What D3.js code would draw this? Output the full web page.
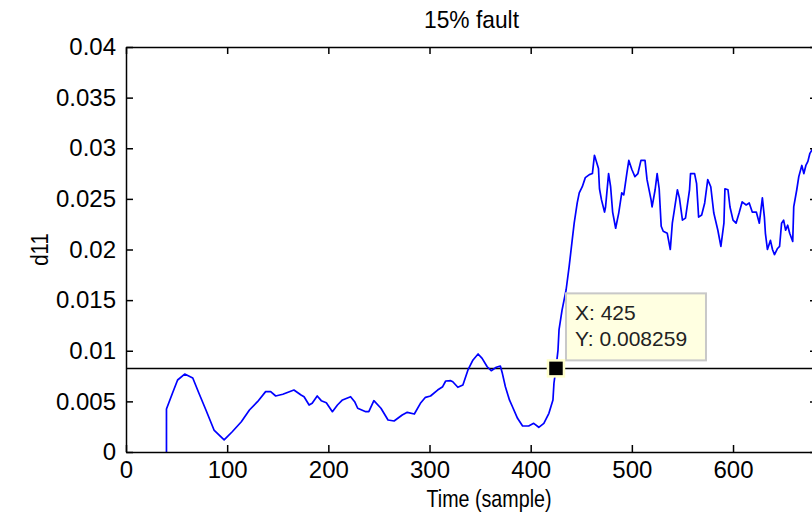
<!DOCTYPE html>
<html>
<head>
<meta charset="utf-8">
<script src="https://cdn.jsdelivr.net/npm/d3@7/dist/d3.min.js"></script>
<style>
  html, body { margin: 0; padding: 0; background: #ffffff; }
  svg { display: block; }
  .lbl { font-family: "Liberation Sans", Arial, Helvetica, sans-serif; }
</style>
</head>
<body>
<svg id="chart" width="812" height="516"></svg>
<script>
// ---- data ----
const sampleIdx = [40,40,46,51,58,66,72,79,87,97,105,114,122,130,138,143,148,155,166,173,176,181,184,189,193,198,204,209,214,222,226,229,237,240,245,252,259,265,273,278,285,291,296,301,308,313,316,321,323,328,333,338,343,348,352,357,361,366,370,372,375,379,382,387,392,398,403,408,413,418,422,423,425,427,428,431,435,438,441,443,446,448,451,454,458,461,463,464,467,468,470,473,474,477,479,481,484,487,490,492,495,497,500,503,506,509,513,515,519,520,523,525,527,529,531,535,538,540,542,545,547,550,553,557,558,562,564,566,569,572,575,578,581,585,588,591,592,595,597,600,603,606,609,613,616,619,623,626,629,631,632,634,637,639,641,644,646,648,650,652,654,656,659,660,663,665,668,670,672,674,676,679,682];
const d11Values = [0,0.00425,0.00583,0.00711,0.00770,0.00731,0.00583,0.00415,0.00217,0.00119,0.00200,0.00299,0.00415,0.00497,0.00596,0.00596,0.00553,0.00570,0.00612,0.00563,0.00546,0.00464,0.00481,0.00553,0.00507,0.00487,0.00398,0.00464,0.00514,0.00546,0.00497,0.00432,0.00398,0.00398,0.00507,0.00432,0.00316,0.00306,0.00365,0.00392,0.00375,0.00481,0.00540,0.00553,0.00612,0.00645,0.00701,0.00704,0.00694,0.00639,0.00662,0.00810,0.00909,0.00968,0.00925,0.00842,0.00803,0.00837,0.00849,0.00777,0.00645,0.00514,0.00447,0.00333,0.00257,0.00257,0.00283,0.00244,0.00283,0.00382,0.00514,0.00679,0.008259,0.01007,0.01205,0.01402,0.0160,0.0183,0.0209,0.0226,0.0246,0.0256,0.0262,0.0271,0.0274,0.0275,0.0293,0.0290,0.0280,0.0260,0.0249,0.0237,0.0242,0.0275,0.0262,0.0237,0.0221,0.0236,0.0256,0.0254,0.0275,0.0288,0.0279,0.0272,0.0275,0.0288,0.0288,0.0269,0.0249,0.0242,0.0259,0.0275,0.0260,0.0223,0.0218,0.0216,0.0200,0.0226,0.0239,0.0259,0.0251,0.0229,0.0231,0.0259,0.0275,0.0275,0.0265,0.0232,0.0234,0.0246,0.0269,0.0262,0.0236,0.0219,0.0203,0.0226,0.0260,0.0259,0.0242,0.0229,0.0226,0.0236,0.0247,0.0244,0.0246,0.0237,0.0237,0.0226,0.0251,0.0232,0.0216,0.0200,0.0209,0.0200,0.0195,0.0201,0.0203,0.0226,0.0229,0.0219,0.0224,0.0216,0.0208,0.0242,0.0259,0.0272,0.0283,0.0275,0.0283,0.0287,0.0295,0.0300,0.0290];
const xTicks = [0,100,200,300,400,500,600];
const yTicks = [0,0.005,0.01,0.015,0.02,0.025,0.03,0.035,0.04];
const yTickLabels = ["0","0.005","0.01","0.015","0.02","0.025","0.03","0.035","0.04"];
const threshold = 0.008259;
const tipSample = 425;
const tipValue = 0.008259;
const titleText = "15% fault";
const xLabel = "Time (sample)";
const yLabel = "d11";

// ---- layout ----
const axL = 126, axR = 817, axT = 47, axB = 452;
const svg = d3.select("#chart");
const x = d3.scaleLinear().domain([0, 683]).range([axL, axR]);
const y = d3.scaleLinear().domain([0, 0.04]).range([axB, axT]);
const FS = 24;

svg.append("defs").append("clipPath").attr("id", "clip")
  .append("rect").attr("x", axL).attr("y", axT).attr("width", axR - axL).attr("height", axB - axT);

// threshold line
svg.append("line")
  .attr("x1", axL).attr("x2", axR)
  .attr("y1", y(threshold)).attr("y2", y(threshold))
  .attr("stroke", "#000").attr("stroke-width", 1.5);

// data line
const line = d3.line().x((d, i) => x(sampleIdx[i])).y(d => y(d));
svg.append("path")
  .datum(d11Values)
  .attr("clip-path", "url(#clip)")
  .attr("fill", "none")
  .attr("stroke", "#0000ff")
  .attr("stroke-width", 1.7)
  .attr("stroke-linejoin", "round")
  .attr("d", line);

// axes
function styleAxis(g) {
  g.selectAll(".domain").attr("stroke", "#000").attr("stroke-width", 1.5);
  g.selectAll(".tick line").attr("stroke", "#000").attr("stroke-width", 1.5);
  g.selectAll("text").attr("class", "lbl").attr("font-size", FS).attr("fill", "#000");
  g.attr("font-family", null).attr("font-size", null);
}
const xAxis = svg.append("g").attr("transform", `translate(0,${axB})`)
  .call(d3.axisBottom(x).tickValues(xTicks).tickFormat(d3.format("d")).tickSizeInner(-7).tickSizeOuter(0).tickPadding(9));
styleAxis(xAxis);

const xAxisTop = svg.append("g").attr("transform", `translate(0,${axT})`)
  .call(d3.axisTop(x).tickValues(xTicks).tickFormat("").tickSizeInner(-7).tickSizeOuter(0));
styleAxis(xAxisTop);

const yAxis = svg.append("g").attr("transform", `translate(${axL},0)`)
  .call(d3.axisLeft(y).tickValues(yTicks).tickFormat((d, i) => yTickLabels[i]).tickSizeInner(-7).tickSizeOuter(0).tickPadding(10));
styleAxis(yAxis);

const yAxisRight = svg.append("g").attr("transform", `translate(${axR},0)`)
  .call(d3.axisRight(y).tickValues(yTicks).tickFormat("").tickSizeInner(-7).tickSizeOuter(0));
styleAxis(yAxisRight);

// titles
svg.append("text").attr("class", "lbl")
  .attr("transform", `translate(${(axL + axR) / 2},28) scale(0.95,1)`)
  .attr("text-anchor", "middle").attr("font-size", FS).text(titleText);
svg.append("text").attr("class", "lbl")
  .attr("transform", "translate(489,507) scale(0.82,1)")
  .attr("text-anchor", "middle").attr("font-size", FS).text(xLabel);
svg.append("text").attr("class", "lbl")
  .attr("transform", `translate(48,${(axT + axB) / 2}) rotate(-90) scale(0.85,1)`)
  .attr("text-anchor", "middle").attr("font-size", FS).text(yLabel);

// data tip
const tx = x(tipSample), ty = y(tipValue);
const box = svg.append("g");
box.append("rect")
  .attr("x", tx + 10).attr("y", ty - 75)
  .attr("width", 140).attr("height", 67)
  .attr("fill", "#ffffe1").attr("stroke", "#c8c8c8").attr("stroke-width", 2);
box.append("text").attr("class", "lbl")
  .attr("x", tx + 19).attr("y", ty - 48)
  .attr("font-size", 21).attr("fill", "#222").text("X: " + tipSample);
box.append("text").attr("class", "lbl")
  .attr("x", tx + 19).attr("y", ty - 22)
  .attr("font-size", 21).attr("fill", "#222").text("Y: " + tipValue);
svg.append("rect")
  .attr("x", tx - 8).attr("y", ty - 8).attr("width", 16).attr("height", 16)
  .attr("fill", "#000").attr("stroke", "#ffffcc").attr("stroke-width", 2.5);
</script>
</body>
</html>
